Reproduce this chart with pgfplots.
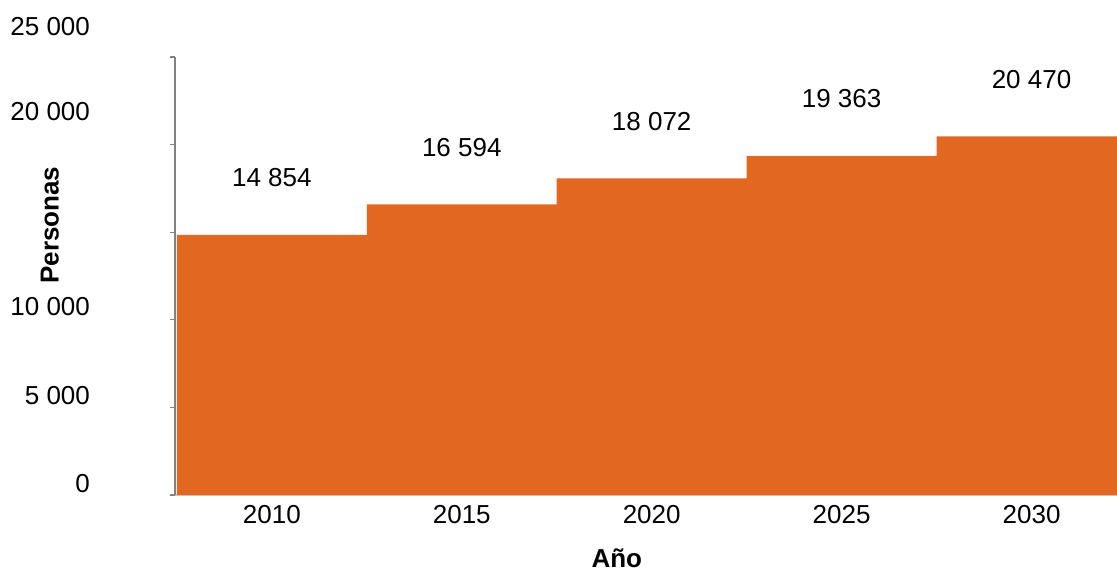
\documentclass[border=0pt]{standalone}
\usepackage{pgfplots}
\pgfplotsset{compat=1.18}
\usepackage{fontspec}
\setmainfont{Liberation Sans}
\definecolor{barorange}{RGB}{226,104,33}
\definecolor{axisgrey}{RGB}{130,130,130}
\begin{document}
\begin{tikzpicture}[font=\fontsize{13}{15.6}\selectfont]
\useasboundingbox (-87.5pt,-37.5pt) rectangle (471pt,247.5pt);
\begin{axis}[
  at={(0pt,0pt)}, anchor=south west,
  scale only axis, width=471pt, height=219pt,
  xmin=-0.51, xmax=4.45, ymin=0, ymax=25000,
  clip=false,
  scaled y ticks=false,
  axis x line*=bottom, axis y line*=left,
  axis line style={axisgrey, line width=0.6pt},
  x axis line style={draw=axisgrey!40},
  xtick={0,1,2,3,4},
  xticklabels={2010,2015,2020,2025,2030},
  x tick style={draw=none},
  xticklabel style={yshift=1pt},
  ytick={0,5000,10000,15000,20000,25000},
  yticklabels={\raisebox{1.5pt}{0},\raisebox{1.5pt}{5 000},\raisebox{2pt}{10 000},{},\raisebox{12pt}{20 000},\raisebox{11pt}{25 000}},
  yticklabel style={anchor=base east, xshift=-36.5pt},
  tick align=outside, major tick length=2.5pt,
  y tick style={axisgrey, line width=0.6pt},
  xlabel={\bfseries Año},
  xlabel style={at={(axis description cs:0.469,-0.144)}, anchor=center},
  ylabel={\bfseries Personas},
  ylabel style={at={(axis description cs:-0.133,0.616)}, anchor=center},
  ybar, bar width=1,
  nodes near coords={\pgfmathprintnumber[1000 sep={\ },assume math mode=true]{\pgfplotspointmeta}},
  nodes near coords style={anchor=center, yshift=28.5pt, text=black},
]
\addplot[fill=barorange, draw=none] coordinates {
  (0,14854) (1,16594) (2,18072) (3,19363) (4,20470)
};
\end{axis}
\end{tikzpicture}
\end{document}
